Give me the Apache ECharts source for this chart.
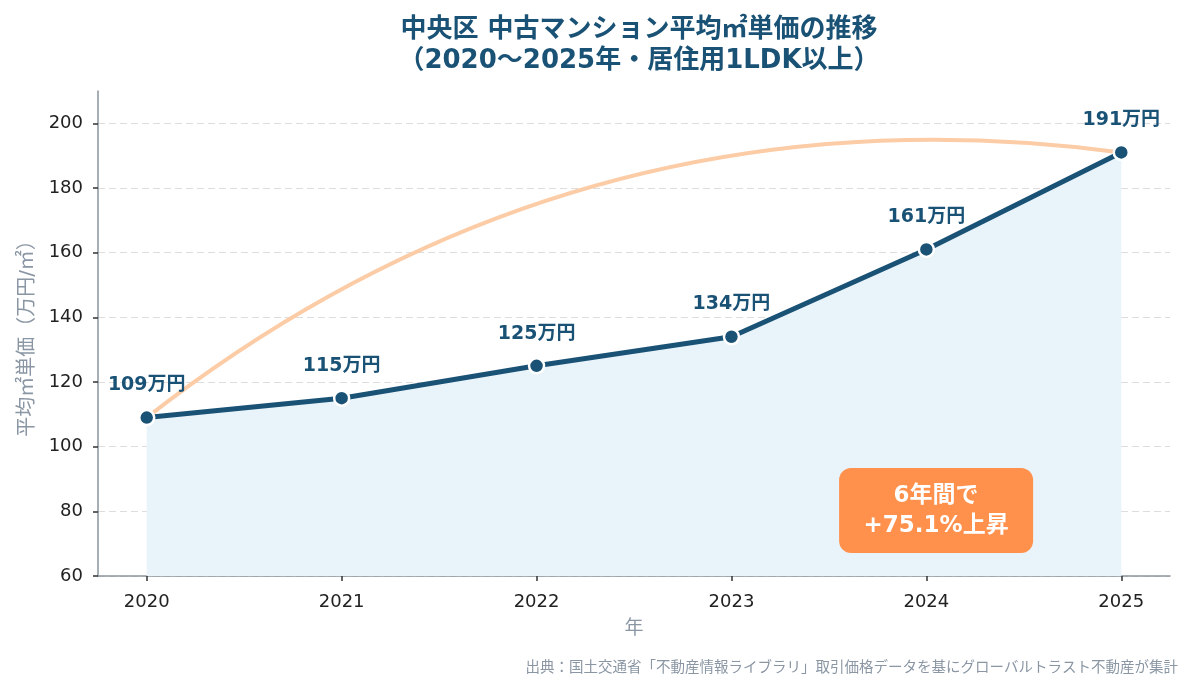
<!DOCTYPE html>
<html lang="ja">
<head>
    <meta charset="utf-8">
    <title>中央区 中古マンション平均㎡単価の推移</title>
    <script src="https://cdn.jsdelivr.net/npm/echarts@6/dist/echarts.min.js"></script>
    <style>
        html, body, #main {
            width: 100%;
            height: 100%;
            margin: 0;
            padding: 0;
            overflow: hidden;
            background-color: #ffffff;
        }
    </style>
</head>
<body>
<div id="main"></div>
<script>
    var FONT = '"DejaVu Sans", "Noto Sans CJK JP", sans-serif';
    var NAVY = '#1a5276';
    var GRAY = '#8a96a3';

    // data
    var years = [2020, 2021, 2022, 2023, 2024, 2025];
    var prices = [109, 115, 125, 134, 161, 191];
    var yTicks = [60, 80, 100, 120, 140, 160, 180, 200];
    var noteText = '6年間で\n+75.1%上昇';
    var notePos = [2024.05, 80.4];   // 注記ボックスの中心（データ座標）

    var dom = document.getElementById('main');
    var myChart = echarts.init(dom, null, {renderer: 'canvas'});

    var lineData = [];
    for (var i = 0; i < years.length; i++) {
        lineData.push([years[i], prices[i]]);
    }

    var option = {
        backgroundColor: '#ffffff',
        animation: false,
        textStyle: {fontFamily: FONT},
        title: [
            {
                text: '中央区 中古マンション平均㎡単価の推移\n（2020～2025年・居住用1LDK以上）',
                left: 634,
                top: 10,
                textAlign: 'center',
                textStyle: {
                    fontFamily: FONT,
                    fontSize: 26,
                    fontWeight: 'bold',
                    color: NAVY,
                    lineHeight: 31
                }
            },
            {
                text: '出典：国土交通省「不動産情報ライブラリ」取引価格データを基にグローバルトラスト不動産が集計',
                right: 12,
                top: 656,
                textStyle: {
                    fontFamily: FONT,
                    fontSize: 14.5,
                    fontWeight: 'normal',
                    color: GRAY
                }
            }
        ],
        grid: {
            left: 98,
            right: 25,
            top: 91,
            bottom: 114
        },
        xAxis: {
            type: 'value',
            min: 2019.75,
            max: 2025.25,
            name: '年',
            nameLocation: 'middle',
            nameGap: 44,
            nameTextStyle: {fontFamily: FONT, fontSize: 19, color: GRAY},
            axisLine: {show: true, lineStyle: {color: '#8a949e', width: 1.5}},
            axisTick: {show: true, length: 5, customValues: years, lineStyle: {color: '#333333', width: 1.5}},
            axisLabel: {
                customValues: years,
                margin: 17,
                fontFamily: FONT,
                fontSize: 18,
                color: '#222222',
                formatter: function (v) { return String(v); }
            },
            splitLine: {show: false}
        },
        yAxis: {
            type: 'value',
            min: 60,
            max: 210,
            name: '平均㎡単価（万円/㎡）',
            nameLocation: 'middle',
            nameGap: 60,
            nameTextStyle: {fontFamily: FONT, fontSize: 20, color: GRAY},
            axisLine: {show: true, lineStyle: {color: '#8a949e', width: 1.5}},
            axisTick: {show: true, length: 5, customValues: yTicks, lineStyle: {color: '#333333', width: 1.5}},
            axisLabel: {
                customValues: yTicks,
                margin: 15,
                fontFamily: FONT,
                fontSize: 18,
                color: '#222222'
            },
            splitLine: {
                show: true,
                lineStyle: {color: '#dddddd', type: [7, 4], width: 1.2}
            }
        },
        series: [
            {
                // 2020→2025 の上昇を示す曲線
                type: 'lines',
                coordinateSystem: 'cartesian2d',
                z: 1,
                silent: true,
                data: [{coords: [lineData[0], lineData[lineData.length - 1]]}],
                lineStyle: {color: '#fccca6', width: 4, opacity: 1, curveness: 0.21}
            },
            {
                type: 'line',
                z: 3,
                data: lineData,
                lineStyle: {color: NAVY, width: 5},
                symbol: 'circle',
                symbolSize: 15,
                itemStyle: {color: NAVY, borderColor: '#ffffff', borderWidth: 2.5},
                areaStyle: {color: '#e9f3fa', opacity: 1, origin: 'start'},
                label: {
                    show: true,
                    position: 'top',
                    distance: 14,
                    fontFamily: FONT,
                    fontSize: 19,
                    fontWeight: 'bold',
                    color: NAVY,
                    formatter: function (p) { return p.value[1] + '万円'; }
                }
            },
            {
                // 注記ボックス
                type: 'custom',
                z: 10,
                silent: true,
                data: [notePos],
                renderItem: function (params, api) {
                    var p = api.coord([api.value(0), api.value(1)]);
                    return {
                        type: 'group',
                        x: p[0],
                        y: p[1],
                        children: [
                            {
                                type: 'rect',
                                shape: {x: -97, y: -42, width: 194, height: 85, r: 12},
                                style: {fill: '#ff914d'}
                            },
                            {
                                type: 'text',
                                x: 0,
                                y: 1,
                                style: {
                                    text: noteText,
                                    fill: '#ffffff',
                                    font: 'bold 23px ' + FONT,
                                    align: 'center',
                                    verticalAlign: 'middle',
                                    lineHeight: 30
                                }
                            }
                        ]
                    };
                }
            }
        ]
    };
    myChart.setOption(option);
</script>
</body>
</html>
